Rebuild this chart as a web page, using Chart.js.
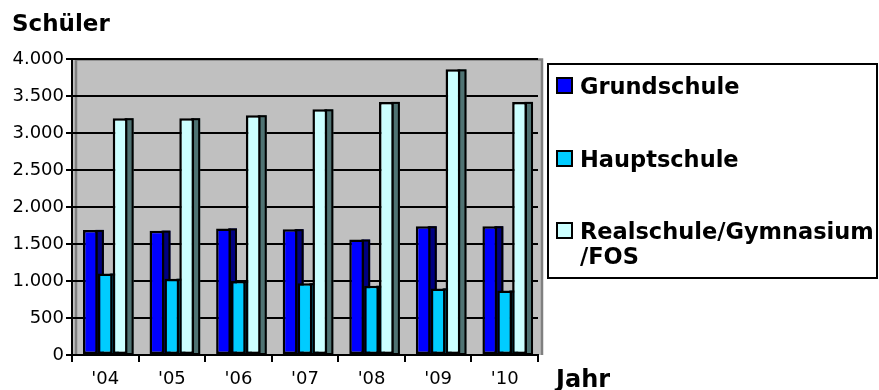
<!DOCTYPE html>
<html>
<head>
<meta charset="utf-8">
<script src="https://cdn.jsdelivr.net/npm/chart.js@4.4.1/dist/chart.umd.min.js"></script>
<style>
  html, body { margin: 0; padding: 0; background: #fff; }
  #wrap { width: 879px; height: 390px; }
</style>
</head>
<body>
<div id="wrap"><canvas id="chart" width="879" height="390"></canvas></div>
<script>
// Schülerzahlen nach Schulart
const years = ["'04", "'05", "'06", "'07", "'08", "'09", "'10"];
const grundschule = [1690, 1680, 1710, 1700, 1560, 1740, 1740];
const hauptschule = [1100, 1030, 1000, 970, 935, 900, 870];
const realschule = [3200, 3200, 3240, 3320, 3420, 3860, 3420];
const yTickLabels = ['0', '500', '1.000', '1.500', '2.000', '2.500', '3.000', '3.500', '4.000'];
const legendLines = [['Grundschule'], ['Hauptschule'], ['Realschule/Gymnasium', '/FOS']];

const fronts = ['#0000ff', '#00ccff', '#ccffff'];
const sides = ['#000080', '#006b8a', '#4f7373'];

// gray back wall behind the bars
const wallPlugin = {
  id: 'wall',
  beforeDraw(chart) {
    const { ctx, chartArea: a } = chart;
    ctx.save();
    ctx.fillStyle = '#c0c0c0';
    ctx.fillRect(a.left, a.top, a.right - a.left + 4, a.bottom - a.top);
    ctx.strokeStyle = '#808080';
    ctx.lineWidth = 2.5;
    ctx.beginPath();
    ctx.moveTo(a.left + 4, a.bottom);
    ctx.lineTo(a.left + 4, a.top + 0.5);
    ctx.lineTo(a.right + 4, a.top + 0.5);
    ctx.lineTo(a.right + 4, a.bottom);
    ctx.stroke();
    ctx.restore();
  }
};

// dark side face of every column (3D look)
const sidePlugin = {
  id: 'sides',
  beforeDatasetsDraw(chart) {
    const ctx = chart.ctx;
    ctx.save();
    chart.data.datasets.forEach((ds, i) => {
      const meta = chart.getDatasetMeta(i);
      meta.data.forEach(bar => {
        const p = bar.getProps(['x', 'y', 'base', 'width'], true);
        const x0 = p.x + p.width / 2 - 2;
        ctx.fillStyle = sides[i];
        ctx.fillRect(x0, p.y, 8, p.base - p.y);
        ctx.strokeStyle = '#000';
        ctx.lineWidth = 2;
        ctx.strokeRect(x0, p.y + 1, 7, p.base - p.y - 1);
      });
    });
    ctx.restore();
  }
};

// legend box, axis captions
const textPlugin = {
  id: 'texts',
  afterDraw(chart) {
    const ctx = chart.ctx;
    ctx.save();
    ctx.fillStyle = '#000';
    ctx.textBaseline = 'alphabetic';
    ctx.font = 'bold 23px "DejaVu Sans"';
    ctx.fillText('Schüler', 12, 31);
    ctx.font = 'bold 24px "DejaVu Sans"';
    ctx.fillText('Jahr', 556, 387);

    ctx.strokeStyle = '#000';
    ctx.lineWidth = 2;
    ctx.strokeRect(548, 64, 329, 214);

    const itemY = [77, 150, 222];
    ctx.font = 'bold 22.5px "DejaVu Sans"';
    legendLines.forEach((lines, i) => {
      ctx.fillStyle = fronts[i];
      ctx.fillRect(557, itemY[i] + 1, 15, 15);
      ctx.strokeRect(557, itemY[i] + 1, 15, 15);
      ctx.fillStyle = '#000';
      lines.forEach((t, j) => {
        ctx.fillText(t, 580, itemY[i] + 17 + j * 25);
      });
    });
    ctx.restore();
  }
};

new Chart(document.getElementById('chart'), {
  type: 'bar',
  data: {
    labels: years,
    datasets: [
      { label: 'Grundschule', data: grundschule, backgroundColor: fronts[0] },
      { label: 'Hauptschule', data: hauptschule, backgroundColor: fronts[1] },
      { label: 'Realschule/Gymnasium/FOS', data: realschule, backgroundColor: fronts[2] }
    ]
  },
  options: {
    responsive: false,
    animation: false,
    layout: { padding: { left: 0, top: 59, right: 341, bottom: 0 } },
    datasets: {
      bar: {
        categoryPercentage: 0.67,
        barPercentage: 1,
        borderColor: '#000',
        borderWidth: 2.5,
        borderSkipped: false
      }
    },
    plugins: {
      legend: { display: false },
      tooltip: { enabled: false }
    },
    scales: {
      x: {
        offset: true,
        grid: {
          offset: true,
          drawOnChartArea: false,
          color: '#000',
          lineWidth: 2,
          tickLength: 7
        },
        border: { color: '#000', width: 2 },
        ticks: {
          color: '#000',
          padding: 7,
          maxRotation: 0,
          font: { family: '"DejaVu Sans"', size: 18 }
        },
        afterFit(scale) { scale.height = 35; }
      },
      y: {
        min: 0,
        max: 4000,
        grid: { color: '#000', lineWidth: 2, tickLength: 6 },
        border: { color: '#000', width: 2 },
        ticks: {
          stepSize: 500,
          color: '#000',
          padding: 2,
          font: { family: '"DejaVu Sans"', size: 18 },
          callback: (v, i) => yTickLabels[i]
        },
        afterFit(scale) { scale.width = 72; }
      }
    }
  },
  plugins: [wallPlugin, sidePlugin, textPlugin]
});
</script>
</body>
</html>
